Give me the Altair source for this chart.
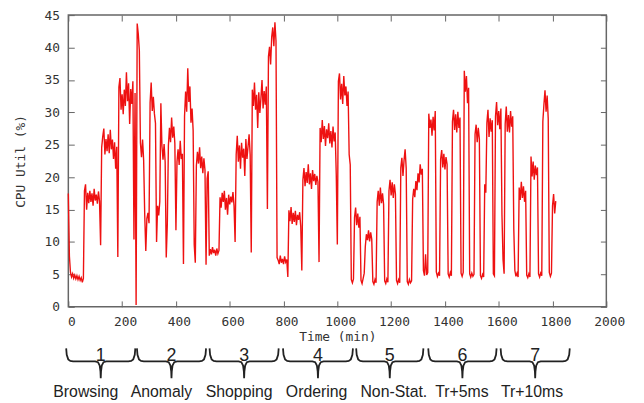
import altair as alt
import pandas as pd

# ---- CPU utilisation trace (%), sampled every STEP minutes from each section start ----
STEP = 4
SECTION_START = [0, 260, 528, 796, 1064, 1340, 1604]

cpu_browsing = [
    17.5, 7.8, 5.3, 4.6, 5.1, 4.4, 4.9, 4.3, 4.8, 4.2,
    4.7, 4.1, 4.5, 3.8, 4.4, 17.9, 18.9, 15.0, 17.6, 16.0,
    17.9, 16.2, 17.5, 15.6, 18.2, 16.4, 17.3, 15.9, 17.8, 16.3,
    9.5, 24.6, 26.3, 27.5, 23.5, 25.9, 24.0, 26.6, 23.7, 27.3,
    24.3, 25.8, 22.8, 25.4, 21.3, 24.7, 7.7, 33.9, 35.3, 30.4,
    32.8, 29.7, 33.5, 31.0, 36.2, 31.7, 34.5, 28.2, 33.6, 31.3,
    34.8, 10.4, 33.0, 0.3, 43.7,
]
cpu_anomaly = [
    42.1, 39.5, 25.3, 23.1, 25.8, 22.6, 14.2, 8.6, 13.6, 14.5,
    12.9, 31.5, 34.6, 30.2, 32.4, 29.8, 28.3, 10.0, 15.6, 14.1,
    16.2, 31.4, 24.8, 22.7, 25.1, 22.3, 7.6, 12.8, 24.9, 27.6,
    25.4, 29.2, 26.1, 27.8, 25.2, 11.8, 22.4, 24.3, 21.9, 25.6,
    22.8, 23.6, 6.6, 29.4, 33.2, 30.1, 36.8, 31.6, 34.0, 28.4,
    30.6, 27.2, 9.6, 6.8, 21.8, 23.9, 22.1, 24.6, 21.4, 23.2,
    20.6, 22.9, 21.1, 6.5, 19.8, 20.9, 7.9,
]
cpu_shopping = [
    8.9, 8.1, 9.2, 8.3, 8.8, 7.9, 9.0, 8.2, 8.7, 16.9,
    15.3, 17.6, 16.2, 17.9, 15.0, 16.8, 14.2, 17.3, 15.8, 17.0,
    16.1, 17.7, 15.6, 10.0, 23.5, 26.4, 22.4, 24.9, 21.3, 25.3,
    23.0, 24.4, 20.2, 25.9, 22.8, 24.7, 26.6, 23.4, 8.4, 33.5,
    31.0, 34.6, 30.4, 32.7, 27.6, 33.1, 29.9, 32.2, 35.0, 30.6,
    33.3, 31.2, 34.0, 15.1, 38.6, 40.1, 37.4, 41.6, 43.1, 40.2,
    43.9, 41.0, 7.6, 7.2, 6.6, 7.9, 6.8,
]
cpu_ordering = [
    7.4, 6.6, 7.8, 6.9, 7.3, 4.6, 14.9, 13.2, 15.4, 12.8,
    14.5, 13.1, 14.8, 12.6, 14.2, 13.4, 14.6, 12.4, 5.6, 19.6,
    21.4, 18.6, 20.8, 19.1, 22.0, 18.9, 20.6, 18.2, 21.1, 19.4,
    20.5, 18.8, 20.2, 19.3, 6.9, 27.6, 25.4, 28.8, 25.9, 27.9,
    24.8, 27.4, 26.0, 28.3, 25.2, 27.1, 24.6, 27.8, 25.5, 26.9,
    20.5, 9.6, 34.8, 36.0, 32.0, 34.4, 31.3, 35.6, 32.6, 34.0,
    31.0, 33.2, 23.5, 21.9, 4.2, 3.7, 4.3,
]
cpu_nonstat = [
    13.8, 15.3, 12.6, 14.4, 12.2, 13.9, 4.1, 3.6, 4.4, 5.2,
    9.3, 11.2, 10.3, 11.8, 10.1, 11.5, 10.4, 3.9, 3.5, 4.2,
    3.7, 16.2, 17.9, 15.6, 18.4, 16.0, 17.5, 15.8, 4.0, 3.6,
    4.3, 3.8, 17.9, 19.6, 17.2, 19.2, 16.8, 18.9, 17.4, 4.1,
    3.6, 4.2, 3.7, 21.5, 23.0, 20.2, 22.6, 24.3, 21.4, 3.9,
    3.5, 4.2, 3.7, 4.0, 16.6, 18.2, 16.9, 19.4, 18.0, 20.6,
    19.2, 22.0, 20.4, 21.3, 5.6, 4.8, 8.1, 4.9, 5.3,
]
cpu_tr5 = [
    29.8, 27.6, 28.9, 26.4, 29.3, 27.2, 30.2, 5.4, 4.7, 5.2,
    4.8, 22.8, 24.2, 21.5, 23.6, 21.2, 23.1, 22.0, 5.1, 4.6,
    5.3, 4.8, 28.6, 30.4, 27.3, 29.7, 26.9, 30.1, 27.6, 29.2,
    5.2, 4.7, 5.3, 36.4, 33.2, 35.6, 31.4, 33.8, 5.1, 4.6,
    5.2, 4.7, 5.0, 26.6, 28.1, 25.4, 27.6, 25.9, 4.8, 4.4,
    5.0, 4.6, 18.9, 17.6, 28.4, 30.4, 26.2, 29.1, 27.0, 28.8,
    5.1, 4.8, 29.4, 31.6, 28.0, 30.2,
]
cpu_tr10 = [
    27.4, 30.6, 14.2, 7.3, 5.1, 28.2, 30.9, 27.0, 29.6, 26.9,
    30.2, 27.8, 29.4, 12.0, 5.6, 4.7, 5.2, 4.6, 18.4, 16.5,
    19.3, 16.8, 18.6, 16.2, 17.9, 4.9, 4.5, 5.1, 4.6, 23.2,
    20.1, 22.4, 19.6, 21.8, 20.3, 21.5, 5.1, 4.6, 5.2, 4.8,
    28.6, 31.2, 33.4, 30.1, 32.6, 29.0, 5.3, 4.7, 5.2, 15.6,
    17.4, 14.4, 16.3,
]

# ---- workload phases shown under the axis (minutes) ----
phase_num = ["1", "2", "3", "4", "5", "6", "7"]
phase_name = ["Browsing", "Anomaly", "Shopping", "Ordering", "Non-Stat.", "Tr+5ms", "Tr+10ms"]
phase_start = [-8, 255, 525, 798, 1070, 1338, 1607]
phase_end = [249, 512, 782, 1058, 1320, 1592, 1864]
name_at = [65, 346, 635, 923, 1210, 1463, 1724]

x_ticks = list(range(0, 2001, 200))
y_ticks = list(range(0, 46, 5))

# ---- build tables ----
sections = [cpu_browsing, cpu_anomaly, cpu_shopping, cpu_ordering, cpu_nonstat, cpu_tr5, cpu_tr10]
rows = []
for start, vals in zip(SECTION_START, sections):
    for i, v in enumerate(vals):
        rows.append({"t": start + STEP * i, "cpu": v})
trace = pd.DataFrame(rows)

# brace geometry (below the axis, in y-axis units)
BR_TOP, BR_MID, BR_TIP = -6.4, -8.4, -11.0
NUM_Y, NAME_Y = -8.3, -13.9
SHAPE = [(0.0, 0.0), (0.008, 0.5), (0.03, 0.85), (0.06, 0.97), (0.1, 1.0),
         (0.42, 1.0), (0.46, 1.05), (0.485, 1.25), (0.496, 1.6), (0.5, 2.0),
         (0.504, 1.6), (0.515, 1.25), (0.54, 1.05), (0.58, 1.0), (0.9, 1.0),
         (0.94, 0.97), (0.97, 0.85), (0.992, 0.5), (1.0, 0.0)]
brow = []
for b, (s, e) in enumerate(zip(phase_start, phase_end)):
    for k, (u, d) in enumerate(SHAPE):
        y = BR_TOP + d * (BR_MID - BR_TOP) if d <= 1 else BR_MID + (d - 1) * (BR_TIP - BR_MID)
        brow.append({"brace": b, "k": k, "t": s + u * (e - s), "cpu": y})
braces = pd.DataFrame(brow)

nums = pd.DataFrame({"t": [(s + e) / 2 for s, e in zip(phase_start, phase_end)],
                     "cpu": [NUM_Y] * 7, "label": phase_num})
names = pd.DataFrame({"t": name_at, "cpu": [NAME_Y] * 7, "label": phase_name})

MONO = "DejaVu Sans Mono"
x_axis = alt.Axis(values=x_ticks, format="d", ticks=False, domain=False, grid=True,
                  gridDash=[6, 283, 6], gridColor="#666", gridOpacity=1, gridWidth=1,
                  labelFont=MONO, labelFontSize=13, labelColor="#333", labelPadding=9,
                  labelOffset=3, labelFlush=False, labelOverlap=False,
                  title="Time (min)", titleFont=MONO, titleFontSize=13,
                  titleFontWeight="normal", titleColor="#333", titlePadding=2)
y_axis = alt.Axis(values=y_ticks, format="d", ticks=False, domain=False, grid=True,
                  gridDash=[6, 532, 6], gridColor="#666", gridOpacity=1, gridWidth=1,
                  labelFont=MONO, labelFontSize=13, labelColor="#333", labelPadding=9,
                  labelFlush=False, labelOverlap=False,
                  title="CPU Util (%)", titleFont=MONO, titleFontSize=13,
                  titleFontWeight="normal", titleColor="#333", titlePadding=17)

X = alt.X("t:Q", scale=alt.Scale(domain=[0, 2000], nice=False, zero=False), axis=x_axis)
Y = alt.Y("cpu:Q", scale=alt.Scale(domain=[0, 45], nice=False, zero=False), axis=y_axis)

line = alt.Chart(trace).mark_line(color="#ee1111", strokeWidth=1.4).encode(x=X, y=Y, order="t:Q")
brace_lines = alt.Chart(braces).mark_line(color="#222", strokeWidth=1.8).encode(
    x=X, y=Y, detail="brace:N", order="k:Q")
num_text = alt.Chart(nums).mark_text(font="Liberation Sans", fontSize=18, color="#222",
                                     baseline="alphabetic", align="center").encode(
    x=X, y=Y, text="label:N")
name_text = alt.Chart(names).mark_text(font="Liberation Sans", fontSize=16, color="#222",
                                       baseline="alphabetic", align="center").encode(
    x=X, y=Y, text="label:N")

chart = alt.layer(line, brace_lines, num_text, name_text).properties(
    width=544, height=295,
    autosize=alt.AutoSizeParams(type="none"),
    padding={"left": 61, "top": 5, "right": 30, "bottom": 92},
).configure_view(stroke="#666", strokeWidth=1.5)

chart.save("out.html", embed_options={"renderer": "svg", "actions": False})
